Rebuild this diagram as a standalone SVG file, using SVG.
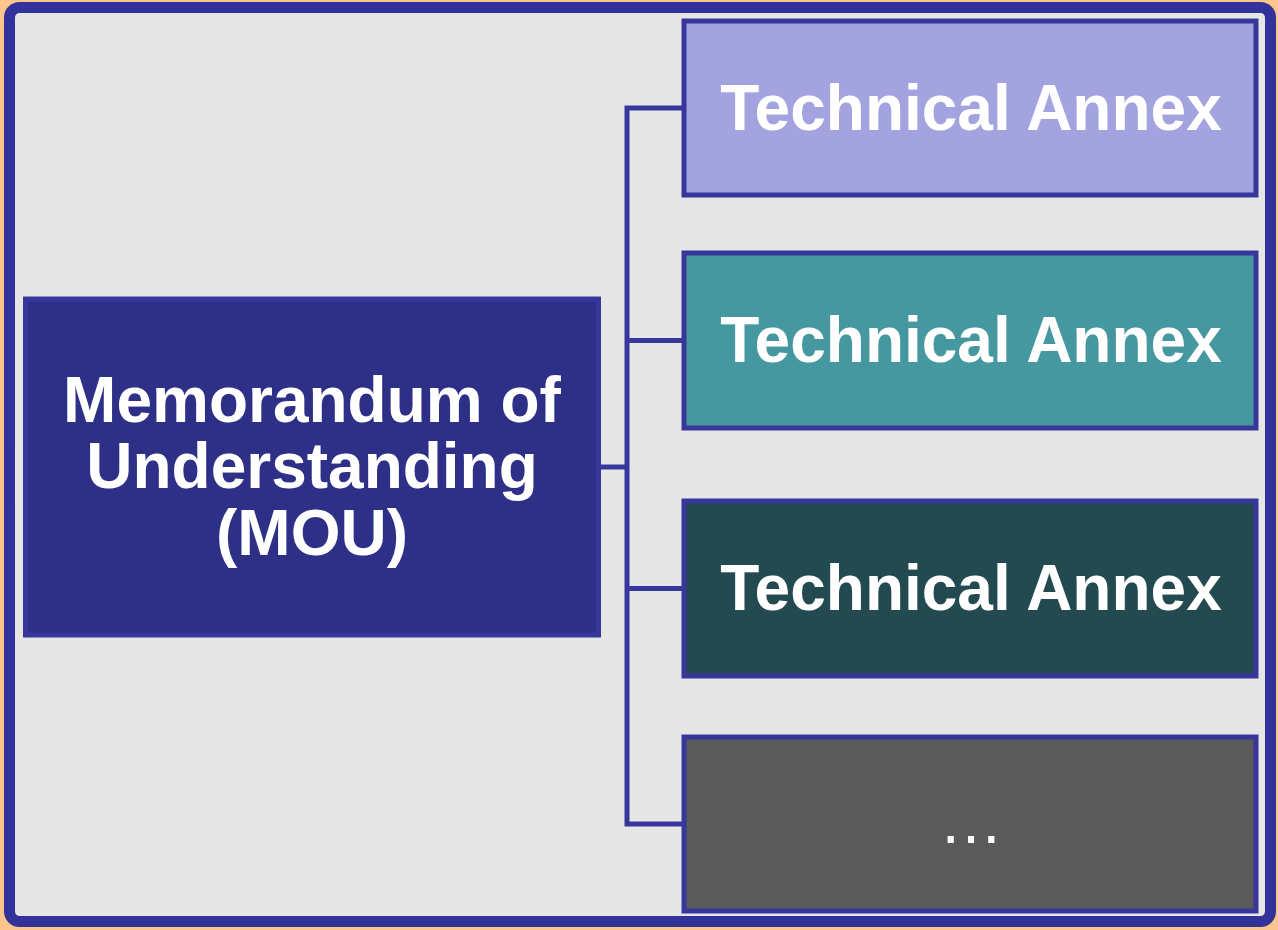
<svg xmlns="http://www.w3.org/2000/svg" width="1278" height="930" viewBox="0 0 1278 930">
<style>
.box{stroke:#37379B;stroke-width:5}
.conn{fill:none;stroke:#37379B;stroke-width:5}
.t{font-family:"Liberation Sans",Arial,sans-serif;font-weight:bold;font-size:64px;fill:#FFFFFF;text-anchor:middle}
</style>
<rect x="0" y="0" width="1278" height="930" fill="#FCC58C"/>
<rect x="9.5" y="7.5" width="1261" height="914" rx="10" fill="#E6E6E6" stroke="#32329A" stroke-width="11"/>
<g id="connectors">
<path class="conn" d="M601 467 H627 M684 108 H627 V824 H684 M627 340.5 H684 M627 588.5 H684"/>
</g>
<g id="mou">
<rect class="box" x="25.5" y="299" width="573" height="336" fill="#2E3088" stroke="#3A3A9E" stroke-width="5"/>
<text class="t" x="312" y="422">Memorandum of</text>
<text class="t" x="312" y="488">Understanding</text>
<text class="t" x="312" y="555">(MOU)</text>
</g>
<g id="annex1">
<rect class="box" x="684" y="21" width="572" height="174" fill="#A3A3E0"/>
<text class="t" x="971" y="130">Technical Annex</text>
</g>
<g id="annex2">
<rect class="box" x="684" y="253" width="572" height="175" fill="#4698A0"/>
<text class="t" x="971" y="362">Technical Annex</text>
</g>
<g id="annex3">
<rect class="box" x="684" y="501" width="572" height="175" fill="#234A50"/>
<text class="t" x="971" y="610">Technical Annex</text>
</g>
<g id="annex4">
<rect class="box" x="684" y="737" width="572" height="174" fill="#5A5A5A"/>
<text class="t" x="971" y="843" style="font-weight:normal">…</text>
</g>
</svg>
